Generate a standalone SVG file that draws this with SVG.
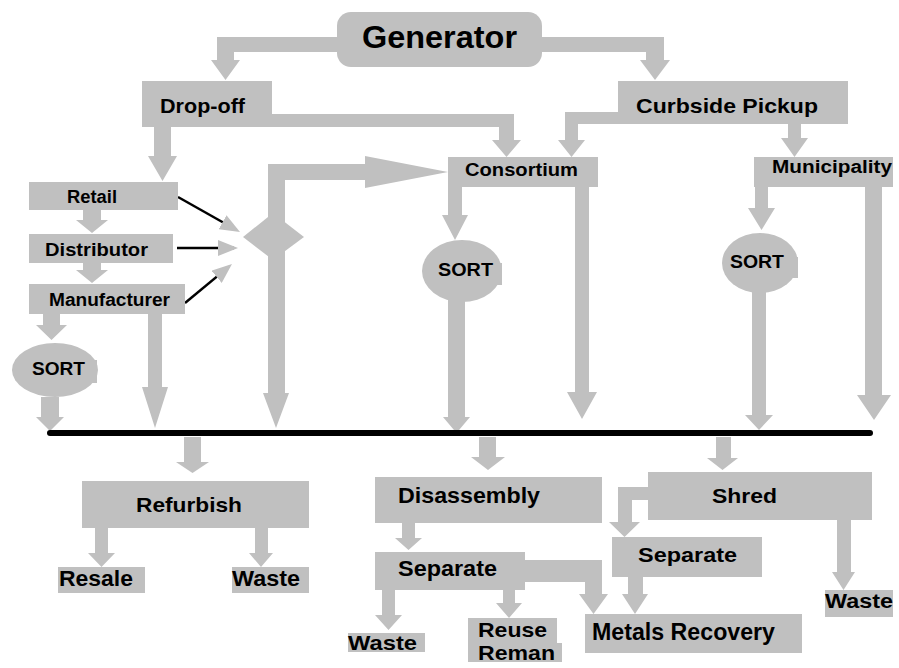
<svg xmlns="http://www.w3.org/2000/svg" width="899" height="668" viewBox="0 0 899 668">
<defs>
<style>
.n{fill:#c0c0c0}
.c{fill:#c0c0c0}
.t{font-family:"Liberation Sans",Arial,sans-serif;font-weight:bold;fill:#000}
.k{stroke:#000;stroke-width:2.5;fill:none}
</style>
<marker id="ah" markerUnits="userSpaceOnUse" viewBox="0 0 20 16" markerWidth="20" markerHeight="16" refX="16" refY="8" orient="auto">
<path d="M0 0 L20 8 L0 16 Z" fill="#c0c0c0"/>
</marker>
</defs>
<rect width="899" height="668" fill="#fff"/>

<g id="connectors">
<path class="c" d="M338 37 L217 37 L217 60 L211 60 L225.5 80 L240 60 L234 60 L234 52 L338 52 Z"/>
<path class="c" d="M542 37 L664 37 L664 60 L670 60 L655 80 L640 60 L646 60 L646 52 L542 52 Z"/>
<path class="c" d="M272 114 L514 114 L514 140 L521 140 L506.5 157 L492 140 L499 140 L499 127 L272 127 Z"/>
<path class="c" d="M618 112 L565 112 L565 140 L558 140 L571.5 157 L585 140 L578 140 L578 124 L618 124 Z"/>
<path class="c" d="M788 124 L801 124 L801 138 L808 138 L794.5 157 L781 138 L788 138 Z"/>
<path class="c" d="M154 127 L171 127 L171 156 L177 156 L162.5 181 L148 156 L154 156 Z"/>
<path class="c" d="M83 210 L101 210 L101 220 L108 220 L92 233 L76 220 L83 220 Z"/>
<path class="c" d="M83 263 L101 263 L101 270 L108 270 L92 283 L76 270 L83 270 Z"/>
<path class="c" d="M43 314 L60 314 L60 325 L67 325 L51.5 340 L36 325 L43 325 Z"/>
<path class="c" d="M41 397 L59 397 L59 417 L64 417 L50 431 L36 417 L41 417 Z"/>
<path class="c" d="M148 314 L162 314 L162 387 L168 387 L155 428 L142 387 L148 387 Z"/>
<path class="c" d="M268 250 L285 250 L285 393 L289 393 L276 428 L263 393 L268 393 Z"/>
<path class="c" d="M268 237 L268 164 L365 164 L365 156 L448 172 L365 188 L365 180 L285 180 L285 237 Z"/>
<path class="c" d="M448 187 L462 187 L462 215 L468 215 L455 240 L442 215 L448 215 Z"/>
<path class="c" d="M448 300 L465 300 L465 417 L470 417 L456.5 433 L443 417 L448 417 Z"/>
<path class="c" d="M575 187 L589 187 L589 392 L597 392 L582 419 L567 392 L575 392 Z"/>
<path class="c" d="M755 187 L768 187 L768 208 L775 208 L761.5 230 L748 208 L755 208 Z"/>
<path class="c" d="M752 290 L766 290 L766 415 L773 415 L759 430 L745 415 L752 415 Z"/>
<path class="c" d="M865 187 L882 187 L882 395 L891 395 L874 420 L857 395 L865 395 Z"/>
<path class="c" d="M184 437 L201 437 L201 462 L209 462 L192.5 473 L176 462 L184 462 Z"/>
<path class="c" d="M95 528 L108 528 L108 553 L115 553 L101.5 567 L88 553 L95 553 Z"/>
<path class="c" d="M255 528 L268 528 L268 553 L273 553 L261 567 L249 553 L255 553 Z"/>
<path class="c" d="M479 437 L496 437 L496 457 L505 457 L488 470 L471 457 L479 457 Z"/>
<path class="c" d="M402 523 L415 523 L415 538 L422 538 L408.5 550 L395 538 L402 538 Z"/>
<path class="c" d="M525 560 L602 560 L602 594 L608 594 L593.5 614 L579 594 L585 594 L585 582 L525 582 Z"/>
<path class="c" d="M503 590 L515 590 L515 603 L522 603 L509 618 L496 603 L503 603 Z"/>
<path class="c" d="M382 590 L395 590 L395 615 L402 615 L388.5 630 L375 615 L382 615 Z"/>
<path class="c" d="M716 437 L731 437 L731 458 L738 458 L722.5 470 L707 458 L716 458 Z"/>
<path class="c" d="M648 487 L618 487 L618 522 L609 522 L624.5 537 L640 522 L632 522 L632 500 L648 500 Z"/>
<path class="c" d="M628 577 L643 577 L643 594 L648 594 L635 614 L622 594 L628 594 Z"/>
<path class="c" d="M837 520 L851 520 L851 572 L855 572 L843.5 590 L832 572 L837 572 Z"/>
<line class="k" x1="178" y1="197" x2="236.5" y2="230" marker-end="url(#ah)"/>
<line class="k" x1="177" y1="248" x2="234" y2="248" marker-end="url(#ah)"/>
<line class="k" x1="185" y1="303" x2="228.9" y2="266.6" marker-end="url(#ah)"/>
<line x1="50" y1="433" x2="870" y2="433" stroke="#000" stroke-width="6" stroke-linecap="round"/>
</g>

<g id="generator">
<rect class="n" x="337" y="12" width="205" height="55" rx="14"/>
<text class="t" x="362" y="48" font-size="32" textLength="155" lengthAdjust="spacingAndGlyphs">Generator</text>
</g>
<g id="dropoff">
<rect class="n" x="142" y="81" width="130" height="46"/>
<text class="t" x="160" y="113" font-size="20" textLength="85" lengthAdjust="spacingAndGlyphs">Drop-off</text>
</g>
<g id="curbside">
<rect class="n" x="618" y="81" width="230" height="43"/>
<text class="t" x="636" y="113" font-size="21" textLength="182" lengthAdjust="spacingAndGlyphs">Curbside Pickup</text>
</g>
<g id="consortium">
<rect class="n" x="448" y="157" width="150" height="30"/>
<text class="t" x="465" y="176" font-size="18" textLength="113" lengthAdjust="spacingAndGlyphs">Consortium</text>
</g>
<g id="municipality">
<rect class="n" x="754" y="157" width="139" height="30"/>
<text class="t" x="772" y="173" font-size="18" textLength="120" lengthAdjust="spacingAndGlyphs">Municipality</text>
</g>
<g id="retail">
<rect class="n" x="29" y="182" width="149" height="28"/>
<text class="t" x="67" y="203" font-size="18" textLength="50" lengthAdjust="spacingAndGlyphs">Retail</text>
</g>
<g id="distributor">
<rect class="n" x="29" y="234" width="144" height="29"/>
<text class="t" x="45" y="256" font-size="18" textLength="103" lengthAdjust="spacingAndGlyphs">Distributor</text>
</g>
<g id="manufacturer">
<rect class="n" x="29" y="284" width="156" height="30"/>
<text class="t" x="49" y="306" font-size="18" textLength="121" lengthAdjust="spacingAndGlyphs">Manufacturer</text>
</g>
<g id="decision">
<polygon class="n" points="243,237 273,213 304,237 273,260"/>
</g>
<g id="sort-left">
<ellipse class="n" cx="55" cy="370" rx="43" ry="27"/>
<rect class="n" x="85" y="360" width="12" height="23"/>
<text class="t" x="32" y="375" font-size="18" textLength="53" lengthAdjust="spacingAndGlyphs">SORT</text>
</g>
<g id="sort-mid">
<ellipse class="n" cx="462" cy="271" rx="40" ry="31"/>
<rect class="n" x="490" y="263" width="12" height="22"/>
<text class="t" x="438" y="276" font-size="18" textLength="55" lengthAdjust="spacingAndGlyphs">SORT</text>
</g>
<g id="sort-right">
<ellipse class="n" cx="760" cy="263" rx="38" ry="30"/>
<rect class="n" x="786" y="257" width="12" height="21"/>
<text class="t" x="730" y="268" font-size="18" textLength="54" lengthAdjust="spacingAndGlyphs">SORT</text>
</g>
<g id="refurbish">
<rect class="n" x="82" y="481" width="227" height="47"/>
<text class="t" x="136" y="512" font-size="21" textLength="106" lengthAdjust="spacingAndGlyphs">Refurbish</text>
</g>
<g id="resale">
<rect class="n" x="58" y="567" width="87" height="26"/>
<text class="t" x="59" y="586" font-size="22" textLength="74" lengthAdjust="spacingAndGlyphs">Resale</text>
</g>
<g id="waste-1">
<rect class="n" x="232" y="567" width="77" height="26"/>
<text class="t" x="232" y="586" font-size="22" textLength="68" lengthAdjust="spacingAndGlyphs">Waste</text>
</g>
<g id="disassembly">
<rect class="n" x="375" y="477" width="227" height="46"/>
<text class="t" x="398" y="503" font-size="22" textLength="142" lengthAdjust="spacingAndGlyphs">Disassembly</text>
</g>
<g id="separate-1">
<rect class="n" x="375" y="552" width="150" height="38"/>
<text class="t" x="398" y="576" font-size="22" textLength="99" lengthAdjust="spacingAndGlyphs">Separate</text>
</g>
<g id="waste-2">
<rect class="n" x="348" y="633" width="77" height="19"/>
<text class="t" x="348" y="650" font-size="21" textLength="69" lengthAdjust="spacingAndGlyphs">Waste</text>
</g>
<g id="reuse">
<rect class="n" x="468" y="618" width="89" height="25"/>
<rect class="n" x="468" y="643" width="94" height="19"/>
<text class="t" x="478" y="637" font-size="21" textLength="69" lengthAdjust="spacingAndGlyphs">Reuse</text>
<text class="t" x="478" y="660" font-size="21" textLength="77" lengthAdjust="spacingAndGlyphs">Reman</text>
</g>
<g id="metals">
<rect class="n" x="585" y="614" width="217" height="39"/>
<text class="t" x="592" y="640" font-size="23" textLength="183" lengthAdjust="spacingAndGlyphs">Metals Recovery</text>
</g>
<g id="shred">
<rect class="n" x="648" y="472" width="224" height="48"/>
<text class="t" x="712" y="503" font-size="21" textLength="65" lengthAdjust="spacingAndGlyphs">Shred</text>
</g>
<g id="separate-2">
<rect class="n" x="612" y="537" width="150" height="40"/>
<text class="t" x="638" y="562" font-size="21" textLength="99" lengthAdjust="spacingAndGlyphs">Separate</text>
</g>
<g id="waste-3">
<rect class="n" x="825" y="590" width="68" height="27"/>
<text class="t" x="825" y="608" font-size="20" textLength="68" lengthAdjust="spacingAndGlyphs">Waste</text>
</g>
</svg>
